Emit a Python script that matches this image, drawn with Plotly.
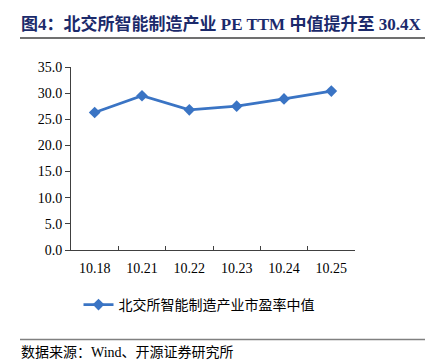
import plotly.graph_objects as go

categories = ["10.18", "10.21", "10.22", "10.23", "10.24", "10.25"]
pe_median = [26.3, 29.5, 26.8, 27.5, 28.9, 30.4]
y_ticks = [0, 5, 10, 15, 20, 25, 30, 35]
y_labels = ["0.0", "5.0", "10.0", "15.0", "20.0", "25.0", "30.0", "35.0"]
series_name = "北交所智能制造产业市盈率中值"
title_text = "图4：北交所智能制造产业 PE TTM 中值提升至 30.4X"
source_text = "数据来源：Wind、开源证券研究所"

# page body has an 8px margin; design in window pixels and shift
OFF = 8
W, H = 433 - OFF, 364 - OFF
L, R, T, B = 71 - OFF, 78, 67 - OFF, 114
pw, ph = W - L - R, H - T - B

def px(x):
    return (x - OFF - L) / pw

def py(y):
    return (H - B - (y - OFF)) / ph

FONT = "Liberation Serif, Times New Roman, Noto Sans CJK SC, serif"

fig = go.Figure()
fig.add_trace(go.Scatter(
    x=categories, y=pe_median, mode="lines+markers", name=series_name,
    line=dict(color="#3A74C4", width=2.8),
    marker=dict(symbol="diamond", size=9, color="#3A74C4"),
))

fig.update_layout(
    width=W, height=H,
    margin=dict(l=L, r=R, t=T, b=B),
    paper_bgcolor="white", plot_bgcolor="white",
    font=dict(family=FONT, size=14, color="#000000"),
    showlegend=True,
    legend=dict(orientation="h", x=px(199), y=py(305), xanchor="center", yanchor="middle",
                font=dict(family="Noto Sans CJK SC, serif", size=14, color="#000000"),
                bgcolor="rgba(0,0,0,0)", itemwidth=30),
    xaxis=dict(type="category", showgrid=False, showline=True, linecolor="#404040", linewidth=1,
               ticks="inside", ticklen=4, tickcolor="#404040", tickson="boundaries",
               ticklabelstandoff=5,
               tickfont=dict(family=FONT, size=14), range=[-0.5, 5.5]),
    yaxis=dict(range=[0, 35], tickvals=y_ticks, ticktext=y_labels, showgrid=False,
               showline=True, linecolor="#404040", linewidth=1, ticks="outside",
               ticklen=5, tickcolor="#404040", tickfont=dict(family=FONT, size=14),
               zeroline=False),
)

fig.add_annotation(text="<b>" + title_text + "</b>", xref="paper", yref="paper",
                   x=px(19), y=py(24), xanchor="left", yanchor="middle", showarrow=False,
                   font=dict(family="Liberation Serif, Noto Sans CJK SC, serif", size=17, color="#1B2A6B"))
fig.add_annotation(text=source_text, xref="paper", yref="paper",
                   x=px(19), y=py(352), xanchor="left", yanchor="middle", showarrow=False,
                   font=dict(family="Liberation Serif, Noto Sans CJK SC, serif", size=14, color="#000000"))
fig.add_shape(type="line", xref="paper", yref="paper", x0=px(20), x1=px(433), y0=py(38), y1=py(38),
              line=dict(color="#404040", width=1.5))
fig.add_shape(type="line", xref="paper", yref="paper", x0=px(20), x1=px(433), y0=py(339.5), y1=py(339.5),
              line=dict(color="#808080", width=1.5))

fig.write_html("out.html")
